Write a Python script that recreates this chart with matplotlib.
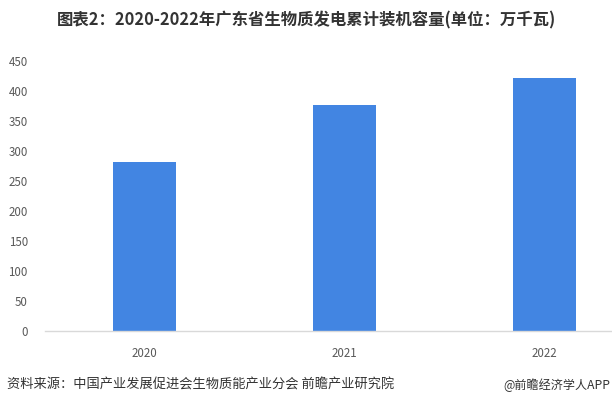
import matplotlib.pyplot as plt

plt.rcParams['font.family'] = ['Noto Sans CJK SC', 'DejaVu Sans']

# data
years = ['2020', '2021', '2022']
capacity = [281, 376, 421]
y_ticks = [0, 50, 100, 150, 200, 250, 300, 350, 400, 450]

fig = plt.figure(figsize=(6.12, 4.06), dpi=100)
ax = fig.add_axes([44.5 / 612, 74.5 / 406, 1 - 44.5 / 612, 270 / 406])

x = range(len(years))
ax.bar(x, capacity, width=0.315, color='#4285E2', zorder=2)

ax.set_xlim(-0.5, 2.3375)
ax.set_ylim(0, 450)
ax.set_yticks(y_ticks)
ax.set_xticks(list(x))
ax.set_xticklabels(years)

for s in ['top', 'right', 'left']:
    ax.spines[s].set_visible(False)
ax.spines['bottom'].set_color('#D9D9D9')
ax.spines['bottom'].set_linewidth(1)
ax.tick_params(axis='both', length=0, colors='#595959', labelsize=8.3)
ax.tick_params(axis='y', pad=12)
ax.tick_params(axis='x', pad=11)

fig.text(0.5, 1 - 20 / 406, '图表2：2020-2022年广东省生物质发电累计装机容量(单位：万千瓦)',
         ha='center', va='center', fontsize=11.8, fontweight='bold', color='#333333')
fig.text(7 / 612, 1 - 385 / 406, '资料来源：中国产业发展促进会生物质能产业分会 前瞻产业研究院',
         ha='left', va='center', fontsize=9.5, color='#333333')
fig.text(610 / 612, 1 - 385 / 406, '@前瞻经济学人APP',
         ha='right', va='center', fontsize=8.7, color='#333333')

fig.savefig('out.png', dpi=100)
